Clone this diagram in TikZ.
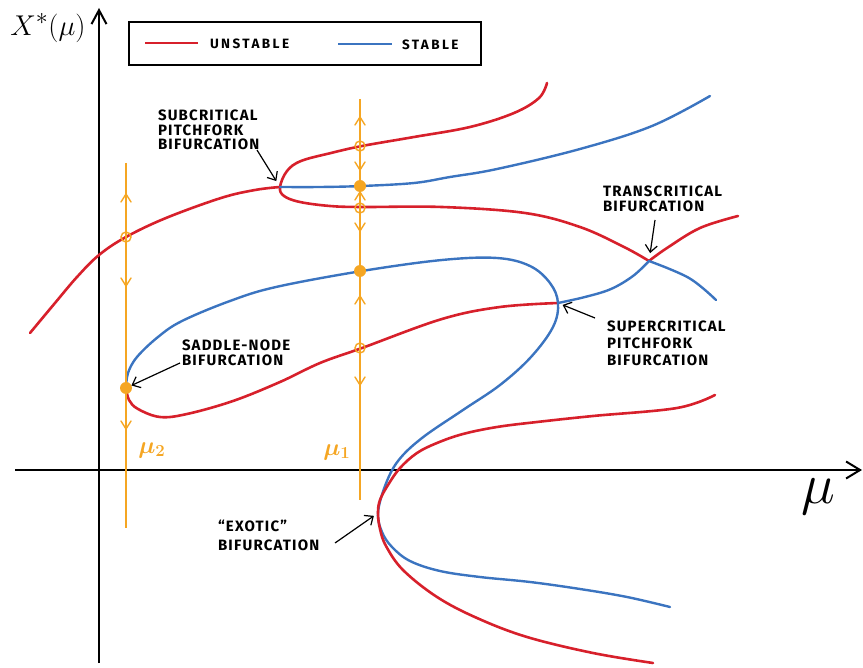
\documentclass[tikz,border=0pt]{standalone}
\usepackage{amsmath}
\usepackage{fontspec}
\newfontfamily\handfont[LetterSpace=8]{Fira Sans}
\newfontfamily\legendfont[LetterSpace=18]{Fira Sans}
\usetikzlibrary{arrows.meta}

\definecolor{unstable}{RGB}{215,32,43}
\definecolor{stable}{RGB}{59,116,192}
\definecolor{param}{RGB}{245,166,35}

\tikzset{
	redcurve/.style={unstable, line width=2.6pt, line cap=round, line join=round},
	bluecurve/.style={stable, line width=2.4pt, line cap=round, line join=round},
	paramline/.style={param, line width=1.8pt},
	chevron/.style={param, line width=1.4pt, line cap=round, line join=miter},
	fixedpt/.style={circle, fill=param, inner sep=0pt, minimum size=12pt},
	openpt/.style={circle, draw=param, line width=1.4pt, inner sep=0pt, minimum size=10pt},
	note/.style={font=\handfont\bfseries\fontsize{15}{14.5}\selectfont, align=left, anchor=north west},
	legtext/.style={font=\legendfont\bfseries\fontsize{13.5}{13.5}\selectfont, anchor=west},
	mulab/.style={text=param, font=\LARGE\boldmath, scale=1.4},
}

\begin{document}
\begin{tikzpicture}[x=1pt, y=-1pt, every node/.style={inner sep=0pt, outer sep=0pt}, >={Straight Barb[length=7pt,width=12pt]}, line join=miter]
	\useasboundingbox (0,0) rectangle (863,668);

	% axes
	\coordinate (ybot) at (99,663);
	\coordinate (ytop) at (99,8);
	\coordinate (xleft) at (15,470);
	\coordinate (xright) at (862,470);
	\draw[line width=2pt, -{Straight Barb[length=14pt,width=15pt]}] (ybot) -- (ytop);
	\draw[line width=2pt, -{Straight Barb[length=14pt,width=17pt]}] (xleft) -- (xright);
	\node[font=\Huge, scale=1.15] (ylab) at (48,28) {$X^{*}(\mu)$};
	\node[font=\Huge, scale=2.3] (xlab) at (818,497) {$\mu$};

	% legend
	\node[draw, line width=1.4pt, minimum width=352pt, minimum height=43pt] (legend) at (305,43.5) {};
	\draw[redcurve, line width=2pt, line cap=butt] (145,43) -- (198,43);
	\node[legtext] (unstab) at (210,44) {UNSTABLE};
	\draw[bluecurve, line width=2pt, line cap=butt] (338,44) -- (392,44);
	\node[legtext] (stab) at (402,45) {STABLE};

	% bifurcation points
	\coordinate (sn) at (126,388);
	\coordinate (sub) at (280,187);
	\coordinate (sup) at (558,303);
	\coordinate (trans) at (649,261);
	\coordinate (exo) at (378,513);

	% branches
	\draw[redcurve] plot[smooth, tension=0.6] coordinates {(30,333) (55,303) (77,277) (99,255) (126,237) (166,218) (221,198) (255,190) (sub)};
	\draw[redcurve] plot[smooth, tension=0.6] coordinates {(547,83) (539,98) (514,113) (470,127) (414,137) (362,146) (331,153) (301,161) (287,171) (sub) (284,196) (300,202) (330,206) (362,207) (442,207) (525,213) (580,227) (624,247) (trans)};
	\draw[bluecurve] plot[smooth, tension=0.6] coordinates {(sub) (320,187) (362,186) (414,183) (450,177) (497,169) (580,149) (652,126) (710,96)};
	\draw[redcurve] plot[smooth, tension=0.6] coordinates {(trans) (667,248) (700,228) (738,216)};
	\draw[bluecurve] plot[smooth, tension=0.6] coordinates {(trans) (689,278) (716,300)};
	\draw[bluecurve] plot[smooth, tension=0.6] coordinates {(sup) (585,297) (611,289) (633,276) (trans)};
	\draw[redcurve] plot[smooth, tension=0.6] coordinates {(sn) (129,400) (138,409) (160,417) (187,414) (233,401) (280,382) (320,363) (362,348) (442,319) (500,307) (sup)};
	\draw[bluecurve] plot[smooth, tension=0.6] coordinates {(sn) (128,373) (137,357) (158,337) (182,321) (230,301) (276,287) (362,271) (442,260) (497,258) (530,266) (550,283) (sup) (553,327) (531,357) (500,385) (463,410) (422,438) (398,461) (385,486) (exo) (382,532) (392,547) (410,561) (440,571) (480,577) (530,582) (580,589) (627,597) (670,607)};
	\draw[redcurve] plot[smooth, tension=0.6] coordinates {(715,395) (677,408) (593,416) (537,422) (497,427) (463,434) (437,443) (417,453) (400,468) (388,485) (380,500) (exo) (380,529) (386,546) (403,570) (437,597) (477,618) (527,637) (593,653) (653,663)};

	% parameter lines mu_2 and mu_1
	\coordinate (m2top) at (126,163);
	\coordinate (m2bot) at (126,528);
	\coordinate (m1top) at (360,99);
	\coordinate (m1bot) at (360,500);
	\draw[paramline] (m2top) -- (m2bot);
	\draw[paramline] (m1top) -- (m1bot);
	\foreach \y in {198} \draw[chevron] (121,\y+4) -- (126,\y-4) -- (131,\y+4);
	\foreach \y in {282,425} \draw[chevron] (121,\y-4) -- (126,\y+4) -- (131,\y-4);
	\foreach \y in {121,196,300} \draw[chevron] (355,\y+4) -- (360,\y-4) -- (365,\y+4);
	\foreach \y in {166,227,381} \draw[chevron] (355,\y-4) -- (360,\y+4) -- (365,\y-4);
	\node[openpt] (a1) at (126,237) {};
	\node[fixedpt] (a2) at (sn) {};
	\node[openpt] (b1) at (360,146) {};
	\node[fixedpt] (b2) at (360,186) {};
	\node[openpt] (b3) at (360,208) {};
	\node[fixedpt] (b4) at (360,271) {};
	\node[openpt] (b5) at (360,348) {};
	\node[mulab] (mu2) at (152,450) {$\mu_2$};
	\node[mulab] (mu1) at (337,452) {$\mu_1$};

	% labels
	\node[note] (subnote) at (158,110) {SUBCRITICAL\\PITCHFORK\\BIFURCATION};
	\node[note] (transnote) at (603,186) {TRANSCRITICAL\\BIFURCATION};
	\node[note, font=\handfont\bfseries\fontsize{15}{17}\selectfont] (supnote) at (607,321) {SUPERCRITICAL\\PITCHFORK\\BIFURCATION};
	\node[note] (snnote) at (182,340) {SADDLE-NODE\\BIFURCATION};
	\node[note, font=\handfont\bfseries\fontsize{15}{19}\selectfont] (exonote) at (218,520) {“EXOTIC”\\BIFURCATION};
	\coordinate (subtail) at (257,150);
	\coordinate (transtail) at (655,220);
	\coordinate (suptail) at (595,318);
	\coordinate (sntail) at (180,363);
	\coordinate (exotail) at (335,543);
	\draw[->, line width=1.2pt, shorten >=7pt] (subtail) -- (sub);
	\draw[->, line width=1.2pt, shorten >=8pt] (transtail) -- (trans);
	\draw[->, line width=1.2pt, shorten >=5pt] (suptail) -- (sup);
	\draw[->, line width=1.2pt, shorten >=6pt] (sntail) -- (sn);
	\draw[->, line width=1.2pt, shorten >=5pt] (exotail) -- (exo);
\end{tikzpicture}
\end{document}
